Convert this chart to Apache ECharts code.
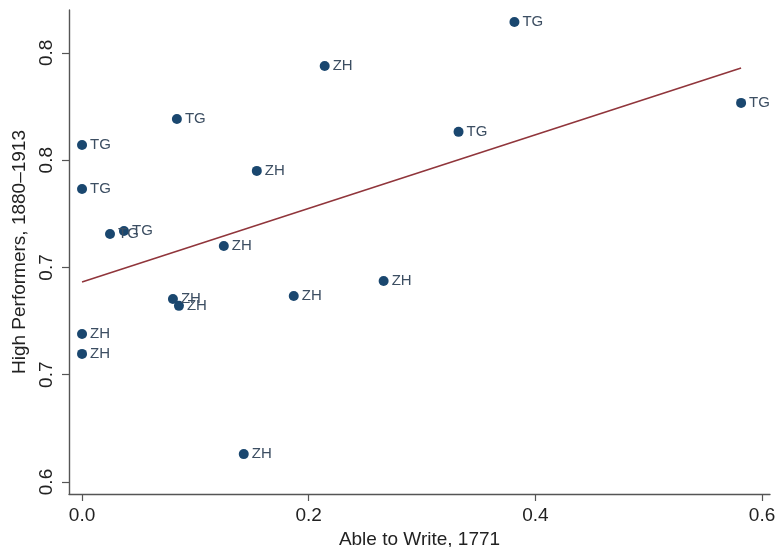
<!DOCTYPE html>
<html>
<head>
<meta charset="utf-8">
<script src="https://cdn.jsdelivr.net/npm/echarts@6/dist/echarts.min.js"></script>
<style>html,body{margin:0;padding:0;background:#fff}#c{width:776px;height:547px}</style>
</head>
<body>
<div id="c"></div>
<script>
// Data
var ableToWrite = [0.3815, 0.2141, 0.0837, 0.0, 0.5815, 0.3322, 0.1542, 0.0, 0.0247, 0.0370, 0.1251, 0.2661, 0.0802, 0.0855, 0.1868, 0.0, 0.0, 0.1427];
var highPerformers = [0.8644, 0.8439, 0.8192, 0.8071, 0.8267, 0.8132, 0.7950, 0.7866, 0.7656, 0.7670, 0.7600, 0.7437, 0.7353, 0.7321, 0.7367, 0.7190, 0.7097, 0.6630];
var canton = ["TG", "ZH", "TG", "TG", "TG", "TG", "ZH", "TG", "TG", "TG", "ZH", "ZH", "ZH", "ZH", "ZH", "ZH", "ZH", "ZH"];
var fitX = [0.0, 0.5815];
var fitY = [0.7432, 0.8430];
var xTicks = [0.0, 0.2, 0.4, 0.6];
var xTickLabels = ["0.0", "0.2", "0.4", "0.6"];
var yTicks = [0.65, 0.70, 0.75, 0.80, 0.85];
var yTickLabels = ["0.6", "0.7", "0.7", "0.8", "0.8"];

var pts = ableToWrite.map(function (x, i) { return [x, highPerformers[i], canton[i]]; });
var fit = fitX.map(function (x, i) { return [x, fitY[i]]; });

function lookup(ticks, labels, v) {
  var best = 0, d = Infinity;
  for (var i = 0; i < ticks.length; i++) {
    var dd = Math.abs(ticks[i] - v);
    if (dd < d) { d = dd; best = i; }
  }
  return labels[best];
}

var font = '"Liberation Sans", Arial, sans-serif';
var axisColor = '#555';
var chart = echarts.init(document.getElementById('c'), null, { renderer: 'canvas' });
chart.setOption({
  backgroundColor: '#fff',
  animation: false,
  grid: { left: 69, right: 6, top: 10, bottom: 53, containLabel: false, outerBoundsMode: 'none' },
  xAxis: {
    type: 'value',
    min: -0.0115, max: 0.607,
    name: 'Able to Write, 1771',
    nameLocation: 'middle',
    nameGap: 33,
    nameTextStyle: { fontFamily: font, fontSize: 19, color: '#222' },
    axisLine: { show: true, onZero: false, lineStyle: { color: axisColor, width: 1.4 } },
    axisTick: { show: true, length: 7, customValues: xTicks, lineStyle: { color: axisColor, width: 1.2 } },
    axisLabel: {
      customValues: xTicks, margin: 12,
      fontFamily: font, fontSize: 19, color: '#222',
      formatter: function (v) { return lookup(xTicks, xTickLabels, v); }
    },
    splitLine: { show: false }
  },
  yAxis: {
    type: 'value',
    min: 0.6444, max: 0.870,
    name: 'High Performers, 1880\u20131913',
    nameLocation: 'middle',
    nameGap: 32,
    nameRotate: 90,
    nameTextStyle: { fontFamily: font, fontSize: 19, color: '#222' },
    axisLine: { show: true, onZero: false, lineStyle: { color: axisColor, width: 1.4 } },
    axisTick: { show: true, length: 7, customValues: yTicks, lineStyle: { color: axisColor, width: 1.2 } },
    axisLabel: {
      customValues: yTicks, rotate: 90, margin: 13,
      fontFamily: font, fontSize: 19, color: '#222',
      formatter: function (v) { return lookup(yTicks, yTickLabels, v); }
    },
    splitLine: { show: false }
  },
  series: [
    {
      type: 'line',
      data: fit,
      symbol: 'none',
      lineStyle: { color: '#90353b', width: 1.6 },
      z: 1
    },
    {
      type: 'scatter',
      data: pts,
      symbol: 'circle',
      symbolSize: 10,
      itemStyle: { color: '#1a476f', opacity: 1 },
      label: {
        show: true,
        position: 'right',
        distance: 3,
        fontFamily: font,
        fontSize: 15,
        color: '#3c4e62',
        formatter: function (p) { return p.data[2]; }
      },
      labelLayout: { hideOverlap: false },
      z: 2
    }
  ]
});
</script>
</body>
</html>
